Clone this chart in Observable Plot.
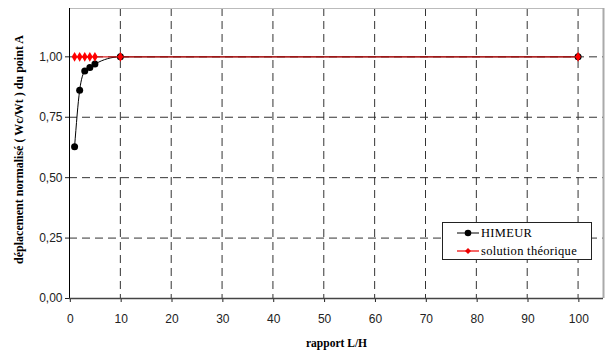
<!DOCTYPE html>
<html>
<head>
<meta charset="utf-8">
<script src="https://cdn.jsdelivr.net/npm/d3@7"></script>
<script src="https://cdn.jsdelivr.net/npm/@observablehq/plot@0.6"></script>
<style>
  html, body { margin: 0; padding: 0; background: #fff; }
  #wrap { position: relative; width: 606px; height: 351px; }
  #legend { position: absolute; left: 442px; top: 222px; width: 148px; height: 36px;
    border: 1px solid #222; background: #fff; font-family: "Liberation Serif", serif; font-size: 12.5px; letter-spacing: 0.3px; color: #000; }
  #legend .row { position: absolute; left: 14px; height: 16px; display: flex; align-items: center; }
  #legend svg { margin-right: 2px; }
</style>
</head>
<body>
<div id="wrap">
  <div id="chart"></div>
  <div id="legend">
    <div class="row" style="top:2px"><svg width="22" height="10"><line x1="0" y1="5" x2="22" y2="5" stroke="#000" stroke-width="1"/><circle cx="11" cy="5" r="3.3" fill="#000"/></svg>HIMEUR</div>
    <div class="row" style="top:20px"><svg width="22" height="10"><line x1="0" y1="5" x2="22" y2="5" stroke="#e00" stroke-width="1.2"/><path d="M11,2 L14,5 L11,8 L8,5Z" fill="#e00"/></svg>solution théorique</div>
  </div>
</div>
<script>
const xTicks = [0, 10, 20, 30, 40, 50, 60, 70, 80, 90, 100];
const yTicks = [0, 0.25, 0.5, 0.75, 1.0];
const ratioLH = [1, 2, 3, 4, 5, 10, 100];
const himeur = [0.628, 0.862, 0.941, 0.956, 0.970, 1.0, 1.0];
const theorique = [1.0, 1.0, 1.0, 1.0, 1.0, 1.0, 1.0];

const dataH = ratioLH.map((x, i) => ({x, y: himeur[i]}));
const dataT = ratioLH.map((x, i) => ({x, y: theorique[i]}));

const fmt = d => d.toFixed(2).replace(".", ",");
const dash = "8,5";

const chart = Plot.plot({
  width: 606,
  height: 351,
  marginLeft: 69,
  marginRight: 3,
  marginTop: 8,
  marginBottom: 53,
  x: {domain: [0, 105]},
  y: {domain: [0, 1.2]},
  style: {fontFamily: "Liberation Sans, Arial, sans-serif", fontSize: "12px", color: "#222", background: "#fff"},
  marks: [
    Plot.gridX(xTicks.slice(1), {stroke: "#333", strokeOpacity: 1, strokeDasharray: dash}),
    Plot.gridY(yTicks.slice(1), {stroke: "#333", strokeOpacity: 1, strokeDasharray: dash}),
    Plot.ruleY([1.2], {stroke: "#bbb"}),
    Plot.ruleX([105], {stroke: "#aaa", strokeWidth: 2}),
    Plot.axisX(xTicks, {tickSize: 4, tickPadding: 12, dx: 0.8, label: null, stroke: "#222", fill: "#222", style: "letter-spacing:1.6px"}),
    Plot.axisY(yTicks, {tickSize: 4, tickPadding: 3, tickFormat: fmt, label: null, stroke: "#222", fill: "#222", style: "letter-spacing:1.6px"}),
    Plot.ruleX([0], {stroke: "#000"}),
    Plot.ruleY([0], {stroke: "#444", strokeWidth: 1.5}),
    Plot.line(dataH, {x: "x", y: "y", stroke: "#000", strokeWidth: 1, curve: "monotone-x"}),
    Plot.dot(dataH, {x: "x", y: "y", r: 3.5, fill: "#000", stroke: null}),
    Plot.line(dataT, {x: "x", y: "y", stroke: "#d81010", strokeWidth: 1.4, strokeOpacity: 0.9}),
    Plot.dot(dataT, {x: "x", y: "y", symbol: "diamond", r: 3, fill: "#ff0000", stroke: null}),
    Plot.text(["rapport L/H"], {frameAnchor: "bottom", dy: 48, fontWeight: "bold", fontFamily: "Liberation Serif, serif", fontSize: 11.5, fill: "#000", style: "letter-spacing:1px"}),
    Plot.text(["déplacement normalisé ( Wc/Wt ) du point A"], {frameAnchor: "left", textAnchor: "middle", dx: -50, dy: -4, rotate: -90, fontWeight: "bold", fontFamily: "Liberation Serif, serif", fontSize: 12, fill: "#000"})
  ]
});
document.getElementById("chart").appendChild(chart);
</script>
</body>
</html>
